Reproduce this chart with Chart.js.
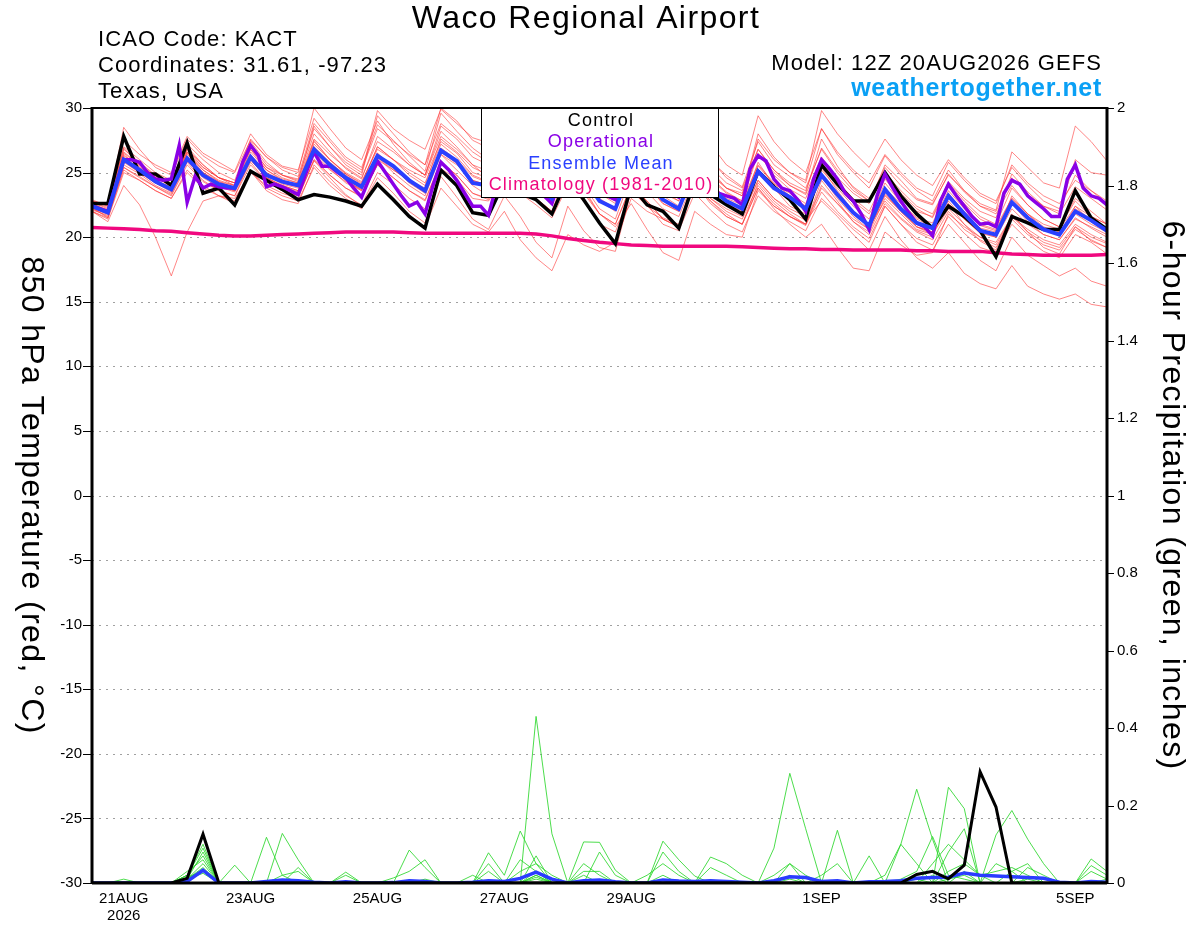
<!DOCTYPE html>
<html>
<head>
<meta charset="utf-8">
<script src="https://cdn.jsdelivr.net/npm/chart.js@4.4.1/dist/chart.umd.min.js"></script>
<style>
  html, body { margin: 0; padding: 0; background: #fff; }
  canvas { display: block; }
</style>
</head>
<body>
<canvas id="chart" width="1200" height="927"></canvas>
<script>
// hours after 12Z 20AUG2026, 6-hourly ensemble output, 3-hourly operational
const stepHours = 6;
const opStepHours = 3;
const tickHours = [12, 60, 108, 156, 204, 276, 324, 372];
const tickLabels = [['21AUG', '2026'], '23AUG', '25AUG', '27AUG', '29AUG', '1SEP', '3SEP', '5SEP'];

// 850 hPa temperature (C)
const control = [22.6, 22.6,
  27.8, 24.9, 24.9, 24.0, 27.3, 23.4, 23.8, 22.5, 25.1, 24.4, 23.7, 22.9,
  23.3, 23.1, 22.8, 22.4, 24.1, 22.9, 21.6, 20.7, 25.2, 24.0, 21.9, 21.7,
  24.3, 23.4, 22.9, 21.8, 24.6, 22.9, 21.1, 19.5, 24.0, 22.5, 22.0, 20.7,
  24.4, 23.3, 22.5, 21.8, 25.1, 23.9, 22.9, 21.4, 25.6, 24.1, 22.8, 22.8,
  25.0, 23.2, 21.8, 20.7, 22.4, 21.6, 20.5, 18.5, 21.6, 21.1, 20.6, 20.6,
  23.6, 21.5, 20.6];

const operational = [22.4, 22.2, 22.0, 24.0, 26.0, 26.0, 25.8, 25.0, 24.5, 24.4,
  24.5, 27.1, 22.7, 24.7, 23.8, 24.1, 23.9, 23.8, 23.8, 25.8,
  27.1, 26.3, 23.9, 24.1, 23.9, 23.6, 23.3, 25.0, 26.6, 25.5,
  25.5, 25.0, 24.6, 23.8, 23.1, 24.6, 25.9, 25.0, 24.1, 23.2,
  22.4, 22.7, 21.8, 24.0, 25.8, 25.2, 24.4, 23.4, 22.4, 22.4,
  21.7, 24.0, 26.0, 25.5, 25.0, 24.5, 24.0, 23.2, 22.6, 24.5,
  26.0, 25.5, 25.0, 24.2, 23.5, 23.2, 22.9, 24.5, 26.0, 25.2,
  24.5, 24.2, 23.8, 23.4, 23.1, 24.5, 26.0, 25.0, 24.2, 23.4,
  23.2, 23.0, 22.5, 25.3, 26.3, 25.9, 24.5, 23.8, 23.6, 22.9,
  22.0, 24.5, 26.0, 25.3, 24.5, 23.4, 22.8, 21.8, 20.6, 23.2,
  24.9, 23.8, 22.8, 21.9, 21.1, 20.8, 20.1, 22.8, 24.1, 23.2,
  22.4, 21.6, 21.0, 21.1, 20.8, 23.4, 24.4, 24.1, 23.2, 22.7,
  22.2, 21.6, 21.6, 24.5, 25.6, 23.8, 23.2, 23.0, 22.5];

const ensMean = [22.4, 21.9,
  26.0, 25.2, 24.3, 23.7, 26.1, 24.8, 24.1, 23.8, 26.2, 24.8, 24.3, 24.0,
  26.8, 25.6, 24.6, 23.9, 26.3, 25.5, 24.4, 23.6, 26.7, 25.9, 24.2, 24.0,
  26.0, 25.0, 24.0, 23.0, 25.8, 24.6, 22.8, 22.2, 25.4, 24.3, 22.9, 22.2,
  25.3, 23.8, 22.8, 22.2, 25.1, 23.8, 23.1, 22.2, 24.8, 23.3, 21.9, 20.9,
  23.7, 22.2, 21.1, 20.7, 23.2, 21.8, 20.5, 20.2, 22.7, 21.5, 20.6, 20.2,
  22.0, 21.3, 20.5];

const climatology = [20.75, 20.7, 20.65, 20.6, 20.5, 20.45, 20.35, 20.25, 20.15, 20.1,
  20.1, 20.15, 20.2, 20.25, 20.3, 20.35, 20.4, 20.4, 20.4, 20.4,
  20.35, 20.3, 20.3, 20.3, 20.3, 20.3, 20.3, 20.3, 20.25, 20.1,
  19.9, 19.75, 19.6, 19.5, 19.4, 19.35, 19.3, 19.3, 19.3, 19.3,
  19.3, 19.25, 19.2, 19.15, 19.1, 19.1, 19.05, 19.05, 19.0, 19.0,
  19.0, 19.0, 18.95, 18.95, 18.9, 18.9, 18.9, 18.8, 18.7, 18.65,
  18.6, 18.6, 18.6, 18.6, 18.65];

const tempMembers = [
  [22.8, 22.5, 27.5, 26.4, 25.6, 25.0, 27.8, 26.5, 25.8, 25.1, 28.0, 26.4, 25.5, 25.2, 29.2, 27.6, 26.2, 25.4, 28.7, 27.5, 26.3, 25.1, 29.6, 28.2, 26.9, 26.0, 28.6, 27.3, 26.1, 25.0, 28.3, 26.8, 25.2, 24.5, 27.6, 26.3, 24.9, 24.0, 27.9, 25.9, 24.8, 23.9, 27.4, 25.6, 24.7, 23.8, 26.8, 25.0, 23.6, 22.8, 25.4, 24.0, 22.9, 22.5, 24.9, 23.5, 22.4, 22.0, 24.6, 23.3, 22.4, 21.8, 23.9, 23.0, 22.1],
  [22.0, 21.4, 25.0, 24.4, 23.6, 23.0, 25.2, 24.0, 23.2, 22.6, 25.1, 23.6, 22.9, 22.6, 25.6, 24.3, 23.2, 22.5, 25.0, 24.1, 23.0, 22.2, 25.3, 24.5, 23.0, 22.8, 24.5, 23.4, 22.5, 21.5, 24.0, 22.8, 21.0, 20.4, 23.6, 22.5, 21.0, 20.5, 23.4, 22.1, 21.0, 20.4, 23.2, 22.0, 21.2, 20.5, 23.0, 21.8, 20.6, 19.6, 22.4, 21.0, 19.9, 19.4, 21.6, 20.3, 19.2, 18.8, 21.0, 19.8, 18.9, 18.4, 20.2, 19.6, 18.7],
  [22.5, 22.0, 26.6, 25.6, 24.8, 24.0, 26.8, 25.4, 24.6, 24.2, 27.0, 25.4, 24.8, 24.5, 28.4, 27.0, 25.8, 25.0, 29.8, 28.4, 27.5, 26.8, 29.9, 28.8, 27.7, 27.3, 29.5, 28.6, 27.4, 26.6, 29.0, 27.4, 25.6, 24.8, 27.0, 25.8, 24.0, 23.1, 26.2, 24.6, 23.5, 22.8, 26.5, 24.8, 23.7, 23.0, 26.0, 24.3, 23.0, 22.0, 24.5, 23.0, 22.0, 21.6, 24.3, 23.0, 22.0, 21.5, 24.9, 23.5, 22.4, 22.0, 26.0, 25.0, 24.8],
  [22.3, 21.8, 25.6, 24.9, 24.0, 23.4, 25.9, 24.6, 23.9, 23.5, 25.8, 24.3, 23.6, 23.2, 25.9, 24.6, 23.3, 22.4, 24.6, 23.4, 22.0, 21.1, 24.7, 23.1, 21.4, 20.6, 23.2, 21.6, 19.6, 18.4, 22.4, 20.5, 19.2, 18.9, 23.6, 22.4, 21.5, 21.0, 24.6, 23.0, 22.2, 21.6, 24.4, 23.0, 22.2, 21.6, 24.7, 23.0, 21.6, 20.6, 23.3, 22.0, 20.8, 20.2, 22.6, 21.0, 19.7, 19.0, 21.8, 20.4, 19.2, 18.7, 20.8, 19.7, 19.2],
  [22.6, 22.1, 26.2, 25.3, 24.6, 24.0, 26.4, 25.2, 24.3, 24.0, 26.6, 25.2, 24.5, 24.2, 27.2, 26.0, 25.0, 24.3, 26.8, 26.0, 25.2, 24.6, 27.4, 26.5, 25.0, 24.6, 26.6, 25.6, 24.6, 23.6, 26.5, 25.2, 23.4, 22.6, 25.8, 24.6, 23.2, 22.4, 25.8, 24.2, 23.0, 22.5, 25.5, 24.1, 23.4, 22.6, 25.2, 23.8, 22.4, 21.4, 24.2, 22.7, 21.5, 21.1, 23.6, 22.2, 21.0, 20.6, 23.0, 21.8, 20.8, 20.4, 22.2, 21.4, 20.6],
  [22.9, 22.4, 28.5, 26.8, 25.4, 24.8, 27.6, 26.3, 25.5, 25.0, 27.5, 26.2, 25.4, 25.0, 30.0, 28.4, 26.9, 26.0, 29.0, 27.2, 25.8, 24.8, 28.2, 27.0, 25.6, 24.6, 27.5, 26.4, 25.4, 24.8, 27.0, 25.6, 24.0, 23.4, 26.4, 25.0, 23.4, 22.8, 27.2, 25.2, 23.8, 23.2, 28.0, 26.2, 25.0, 24.2, 28.4, 26.4, 25.0, 23.8, 26.3, 24.8, 23.6, 22.8, 25.2, 23.6, 22.4, 21.8, 24.0, 22.5, 21.4, 20.8, 22.8, 21.6, 21.0],
  [22.2, 21.6, 25.4, 24.6, 23.9, 23.2, 25.6, 24.3, 23.6, 23.2, 26.0, 24.6, 23.9, 23.5, 26.8, 25.5, 24.4, 23.6, 26.5, 25.4, 24.2, 23.4, 26.9, 26.0, 24.7, 24.2, 26.2, 25.0, 24.0, 23.0, 26.0, 24.7, 22.8, 22.0, 25.4, 24.2, 22.9, 22.2, 25.0, 23.6, 22.4, 21.8, 24.4, 23.0, 22.0, 21.3, 22.8, 21.6, 20.2, 19.0, 21.6, 19.8, 18.4, 17.6, 18.8, 17.2, 16.4, 16.0, 17.8, 16.2, 15.6, 15.2, 15.6, 14.8, 14.6],
  [22.4, 21.9, 26.0, 25.0, 24.2, 23.5, 26.0, 24.8, 24.0, 23.6, 26.4, 25.0, 24.4, 24.0, 27.0, 25.8, 24.8, 24.0, 26.2, 25.0, 24.0, 23.2, 26.4, 25.2, 24.0, 23.2, 25.6, 24.2, 23.0, 22.0, 25.4, 24.0, 22.2, 21.4, 24.8, 23.5, 22.2, 21.6, 24.6, 23.0, 22.0, 21.4, 24.0, 22.6, 21.6, 20.9, 23.5, 22.0, 20.8, 19.9, 22.4, 21.0, 19.6, 19.0, 21.0, 19.6, 18.2, 17.4, 20.0, 18.6, 17.8, 17.0, 17.6, 16.6, 16.2],
  [22.5, 22.0, 26.3, 25.5, 24.4, 23.8, 26.2, 25.0, 24.3, 23.8, 26.3, 24.9, 24.2, 23.9, 27.5, 26.0, 24.9, 24.1, 27.0, 26.0, 24.8, 24.0, 27.6, 26.6, 25.4, 24.8, 27.8, 26.5, 25.5, 24.9, 28.8, 27.2, 25.5, 24.8, 29.6, 27.8, 26.0, 25.0, 27.5, 26.0, 24.6, 23.8, 26.8, 25.2, 24.0, 23.4, 27.6, 25.5, 23.8, 22.8, 24.8, 23.4, 22.2, 21.5, 24.0, 22.6, 21.4, 20.8, 23.0, 21.8, 21.0, 20.6, 22.4, 21.6, 21.0],
  [22.1, 21.7, 25.8, 25.0, 24.4, 23.9, 26.5, 25.0, 24.2, 23.9, 26.0, 24.6, 24.0, 23.6, 26.4, 25.2, 24.3, 23.7, 26.0, 25.2, 24.4, 23.8, 26.4, 25.6, 24.4, 24.0, 25.8, 24.8, 24.0, 23.0, 25.6, 24.4, 22.8, 22.2, 25.0, 24.0, 22.6, 22.0, 25.4, 23.9, 22.8, 22.3, 25.8, 24.0, 23.0, 22.4, 25.4, 23.6, 22.0, 20.8, 22.8, 21.5, 20.5, 20.0, 23.4, 21.9, 20.7, 20.4, 22.6, 21.2, 20.2, 19.8, 21.4, 20.8, 20.2],
  [22.7, 22.2, 26.8, 25.8, 24.8, 24.2, 27.0, 25.6, 24.6, 24.2, 26.8, 25.4, 24.6, 24.2, 27.6, 26.4, 25.4, 24.6, 27.4, 26.6, 25.6, 24.8, 27.8, 26.8, 25.6, 25.1, 27.0, 26.2, 25.2, 24.4, 26.8, 25.6, 24.0, 23.4, 26.0, 25.0, 23.8, 23.2, 26.2, 24.8, 23.8, 23.4, 26.4, 25.0, 24.0, 23.3, 26.2, 24.6, 23.4, 22.6, 25.6, 24.4, 23.0, 22.6, 24.8, 23.6, 22.6, 22.1, 26.6, 25.4, 24.2, 23.8, 28.6, 27.4, 25.9],
  [22.0, 21.2, 24.0, 22.5, 20.0, 17.0, 20.4, 22.8, 23.2, 23.0, 25.0, 24.0, 23.4, 23.0, 26.0, 24.8, 23.8, 23.2, 25.6, 24.6, 23.6, 22.9, 25.8, 24.8, 23.4, 23.0, 25.0, 23.8, 22.8, 21.8, 24.6, 23.4, 21.8, 21.0, 24.0, 22.8, 21.4, 20.8, 24.2, 22.6, 21.6, 21.0, 23.8, 22.4, 21.6, 21.0, 24.0, 22.6, 21.2, 20.4, 23.0, 21.8, 20.6, 20.2, 22.2, 21.0, 20.0, 19.4, 21.6, 20.4, 19.6, 19.2, 20.8, 20.0, 19.5],
  [22.6, 22.0, 26.4, 25.4, 24.6, 24.0, 26.6, 25.4, 24.6, 24.2, 27.2, 25.6, 24.8, 24.4, 28.6, 27.0, 25.6, 24.8, 29.4, 28.0, 26.6, 25.6, 30.0, 29.0, 27.5, 26.9, 29.8, 28.4, 26.8, 25.6, 27.5, 26.2, 24.6, 23.8, 26.6, 25.2, 23.8, 23.0, 26.0, 24.5, 23.4, 22.8, 25.6, 24.2, 23.2, 22.4, 25.8, 24.2, 22.8, 21.8, 23.8, 22.6, 21.4, 20.8, 23.2, 22.0, 20.9, 20.5, 22.8, 21.5, 20.6, 20.2, 21.8, 21.0, 20.4],
  [22.3, 21.5, 25.2, 24.4, 23.6, 23.0, 25.0, 23.8, 23.2, 22.8, 25.2, 23.8, 23.2, 22.8, 25.4, 24.0, 23.0, 22.2, 24.2, 22.8, 21.6, 20.8, 23.8, 22.4, 21.0, 20.4, 22.0, 19.8, 18.4, 17.4, 20.2, 19.4, 18.9, 19.6, 23.0, 22.0, 21.4, 20.8, 24.0, 22.8, 21.8, 21.0, 24.2, 22.8, 21.8, 21.0, 24.4, 22.8, 21.2, 20.2, 22.6, 21.4, 20.4, 19.8, 22.0, 20.6, 19.8, 19.2, 21.4, 20.2, 19.4, 19.0, 20.6, 19.8, 19.2],
  [22.4, 22.0, 26.1, 25.3, 24.3, 23.6, 26.2, 24.9, 24.0, 23.6, 26.0, 24.6, 24.0, 23.6, 27.0, 25.6, 24.4, 23.7, 26.5, 25.3, 24.3, 23.5, 26.8, 25.8, 24.4, 24.0, 26.2, 25.2, 24.0, 23.2, 26.2, 24.9, 23.0, 22.2, 25.2, 24.0, 22.6, 22.0, 25.6, 24.0, 22.6, 22.0, 25.2, 23.8, 22.4, 21.8, 24.6, 23.2, 21.8, 21.0, 23.4, 22.0, 20.8, 20.4, 22.8, 21.4, 20.4, 20.0, 23.2, 21.8, 20.6, 20.2, 22.4, 21.2, 20.4],
  [22.7, 22.3, 26.9, 25.6, 24.6, 24.0, 26.8, 25.6, 24.6, 24.0, 27.4, 25.8, 24.8, 24.3, 28.0, 26.6, 25.3, 24.5, 27.8, 26.8, 25.6, 24.8, 28.6, 27.6, 26.2, 25.6, 28.2, 27.2, 26.0, 25.2, 29.5, 28.2, 26.4, 25.4, 28.0, 26.8, 25.2, 24.2, 27.0, 25.4, 24.2, 23.6, 26.8, 25.2, 24.2, 23.6, 26.9, 25.2, 23.9, 23.0, 25.0, 23.6, 22.4, 21.8, 24.2, 22.8, 21.6, 21.0, 23.8, 22.5, 21.4, 20.8, 23.0, 22.0, 21.0],
  [22.2, 21.8, 25.9, 25.0, 24.2, 23.6, 26.0, 24.7, 24.0, 23.6, 26.1, 24.8, 24.1, 23.8, 26.6, 25.3, 24.2, 23.6, 26.2, 25.2, 24.4, 23.6, 26.6, 25.7, 24.2, 23.8, 25.8, 24.8, 23.8, 22.8, 25.2, 23.8, 21.8, 20.8, 22.6, 20.6, 18.8, 18.2, 22.0, 21.0, 20.2, 20.0, 23.6, 22.4, 21.6, 21.0, 23.8, 22.6, 21.4, 20.6, 23.2, 22.0, 20.8, 20.4, 22.6, 21.4, 20.3, 20.0, 22.2, 21.0, 20.2, 19.8, 21.5, 20.7, 20.0],
  [22.5, 22.1, 26.5, 25.6, 24.7, 24.1, 26.6, 25.2, 24.4, 24.0, 26.8, 25.2, 24.4, 24.0, 27.4, 26.0, 24.9, 24.2, 27.0, 26.0, 25.0, 24.2, 27.2, 26.2, 24.8, 24.3, 26.6, 25.6, 24.6, 23.6, 26.4, 25.2, 23.4, 22.8, 26.2, 25.0, 23.6, 22.8, 26.8, 25.0, 23.8, 23.2, 27.6, 26.0, 25.0, 24.4, 29.8, 28.0, 26.6, 25.4, 27.6, 26.0, 24.8, 24.0, 26.0, 24.6, 23.4, 22.8, 25.4, 24.0, 22.8, 22.2, 24.8, 23.6, 22.6],
  [22.0, 21.5, 25.4, 24.7, 23.9, 23.3, 25.8, 24.4, 23.6, 23.2, 25.6, 24.3, 23.6, 23.2, 26.0, 24.8, 23.8, 23.1, 25.6, 24.6, 23.6, 22.8, 25.8, 24.8, 23.4, 22.9, 25.0, 24.0, 23.0, 22.0, 24.8, 23.6, 21.8, 21.0, 24.0, 22.8, 21.4, 20.8, 24.2, 22.8, 21.6, 21.0, 23.8, 22.2, 21.0, 20.0, 21.0, 19.2, 17.6, 17.4, 20.4, 19.4, 18.6, 18.8, 21.8, 20.8, 20.0, 19.6, 21.6, 20.6, 19.8, 19.4, 21.0, 20.2, 19.6],
  [22.8, 22.4, 27.0, 26.0, 25.0, 24.4, 27.2, 26.0, 25.0, 24.4, 27.6, 26.2, 25.2, 24.7, 28.8, 27.4, 26.0, 25.2, 28.4, 27.4, 26.4, 25.6, 28.8, 27.8, 26.6, 25.8, 28.0, 27.0, 25.8, 25.0, 27.8, 26.6, 25.0, 24.2, 28.2, 26.8, 25.2, 24.4, 29.0, 27.2, 25.6, 24.8, 29.4, 27.4, 26.0, 25.0, 28.4, 26.6, 25.2, 24.2, 26.4, 25.0, 23.8, 23.2, 25.8, 24.4, 23.2, 22.6, 25.6, 24.2, 23.2, 22.6, 24.4, 23.6, 22.8]
];

// 6-hour precipitation (inches)
const precipControl = [0, 0, 0, 0, 0, 0, 0.012, 0.126, 0, 0, 0, 0, 0,
  0, 0, 0, 0, 0, 0, 0, 0, 0, 0, 0, 0, 0,
  0, 0, 0, 0, 0, 0, 0, 0, 0, 0, 0, 0, 0,
  0, 0, 0, 0, 0, 0, 0, 0, 0, 0, 0, 0, 0,
  0.022, 0.030, 0.011, 0.046, 0.287, 0.196, 0, 0, 0, 0, 0, 0, 0];

const precipMean = [0, 0, 0, 0, 0, 0, 0.004, 0.033, 0, 0, 0, 0.004, 0.008,
  0.006, 0.002, 0, 0.003, 0, 0, 0.001, 0.006, 0.004, 0, 0, 0.002, 0.006,
  0.004, 0.012, 0.028, 0.01, 0, 0.006, 0.008, 0.003, 0, 0, 0.008, 0.005, 0.004,
  0.006, 0.004, 0.002, 0, 0.006, 0.016, 0.014, 0.004, 0.006, 0, 0.003, 0.004, 0.006,
  0.012, 0.014, 0.015, 0.026, 0.02, 0.018, 0.016, 0.014, 0.012, 0.002, 0, 0.004, 0.002];

const precipMembers = [
  [0, 0, 0, 0, 0, 0, 0.02, 0.10, 0, 0, 0, 0, 0,
   0, 0, 0, 0, 0, 0, 0, 0, 0, 0, 0, 0, 0,
   0, 0, 0.43, 0.127, 0, 0, 0, 0, 0, 0, 0, 0, 0,
   0, 0, 0, 0, 0.09, 0.283, 0.14, 0, 0, 0, 0, 0, 0,
   0, 0, 0, 0, 0, 0.124, 0.187, 0.113, 0.05, 0, 0, 0, 0],
  [0, 0, 0, 0, 0, 0, 0.01, 0.08, 0, 0.046, 0, 0.118, 0.02,
   0, 0, 0, 0.028, 0, 0, 0, 0.085, 0.04, 0, 0, 0, 0.078,
   0.02, 0.134, 0.05, 0, 0, 0.106, 0.105, 0.033, 0, 0, 0.108, 0.06, 0.018,
   0, 0, 0, 0, 0, 0.01, 0, 0, 0.136, 0, 0, 0, 0.1,
   0.242, 0.113, 0, 0, 0, 0, 0, 0, 0, 0, 0, 0, 0],
  [0, 0, 0.01, 0, 0, 0, 0.03, 0.06, 0, 0, 0, 0, 0.128,
   0.06, 0, 0, 0.02, 0, 0, 0.013, 0.03, 0.06, 0, 0, 0, 0.05,
   0, 0, 0.07, 0, 0, 0, 0.08, 0.02, 0, 0, 0, 0, 0,
   0.067, 0.05, 0.02, 0, 0, 0, 0, 0, 0, 0, 0.07, 0, 0,
   0, 0, 0.247, 0.192, 0, 0, 0, 0, 0, 0, 0, 0.062, 0.03],
  [0, 0, 0, 0, 0, 0, 0.01, 0.05, 0, 0, 0, 0, 0,
   0.04, 0, 0, 0, 0, 0, 0, 0, 0.01, 0, 0, 0, 0,
   0, 0.03, 0.05, 0.02, 0, 0.05, 0.02, 0, 0, 0, 0.08, 0.03, 0,
   0, 0, 0, 0, 0.02, 0.05, 0, 0, 0, 0, 0, 0.02, 0.1,
   0.05, 0, 0.08, 0.14, 0, 0, 0.03, 0.05, 0, 0, 0, 0.03, 0.01],
  [0, 0, 0, 0, 0, 0, 0.02, 0.07, 0, 0, 0, 0, 0,
   0, 0, 0, 0, 0, 0, 0, 0, 0, 0, 0, 0, 0.03,
   0, 0, 0.02, 0, 0, 0.03, 0.03, 0, 0, 0, 0, 0, 0,
   0.04, 0.02, 0, 0, 0, 0.05, 0.02, 0, 0, 0, 0, 0, 0,
   0, 0.05, 0.1, 0.06, 0.02, 0, 0, 0.04, 0.02, 0, 0, 0.045, 0.02],
  [0, 0, 0, 0, 0, 0, 0.01, 0.04, 0, 0, 0, 0, 0.02,
   0.03, 0, 0, 0, 0, 0, 0, 0, 0, 0, 0, 0.02, 0,
   0, 0.06, 0.03, 0, 0, 0.02, 0, 0, 0, 0.02, 0.05, 0.02, 0,
   0, 0, 0, 0, 0, 0.02, 0, 0, 0, 0, 0, 0, 0,
   0.01, 0, 0.03, 0.05, 0.02, 0.03, 0.04, 0.02, 0, 0, 0, 0, 0.01],
  [0, 0, 0, 0, 0, 0, 0.015, 0.03, 0, 0, 0, 0, 0,
   0, 0, 0, 0, 0, 0, 0, 0, 0, 0, 0, 0, 0,
   0, 0, 0.03, 0, 0, 0, 0, 0, 0, 0, 0.02, 0, 0,
   0, 0, 0, 0, 0, 0, 0, 0.02, 0.05, 0, 0, 0, 0.01,
   0.03, 0.12, 0.02, 0.01, 0, 0.05, 0.03, 0, 0, 0, 0, 0, 0],
  [0, 0, 0, 0, 0, 0, 0.01, 0.035, 0, 0, 0, 0, 0,
   0, 0, 0, 0, 0, 0, 0, 0, 0, 0, 0, 0, 0,
   0, 0, 0.01, 0, 0, 0, 0, 0, 0, 0, 0, 0, 0,
   0, 0, 0, 0, 0, 0, 0, 0, 0, 0, 0, 0, 0,
   0, 0, 0.01, 0.02, 0, 0, 0, 0.01, 0, 0, 0, 0, 0],
  [0, 0, 0, 0, 0, 0, 0.02, 0.09, 0, 0, 0, 0, 0,
   0, 0, 0, 0, 0, 0, 0, 0, 0, 0, 0, 0, 0,
   0, 0, 0.015, 0, 0, 0, 0, 0, 0, 0, 0, 0, 0,
   0, 0, 0, 0, 0, 0, 0, 0, 0, 0, 0, 0, 0,
   0, 0.02, 0, 0, 0, 0, 0, 0, 0, 0, 0, 0, 0],
  [0, 0, 0, 0, 0, 0, 0.01, 0.025, 0, 0, 0, 0, 0,
   0, 0, 0, 0, 0, 0, 0, 0, 0, 0, 0, 0, 0,
   0, 0, 0.02, 0, 0, 0, 0, 0, 0, 0, 0, 0, 0,
   0, 0, 0, 0, 0, 0, 0, 0, 0, 0, 0, 0, 0,
   0, 0, 0, 0.03, 0, 0, 0, 0, 0, 0, 0, 0, 0]
];

const FONT = '"Liberation Sans", Arial, Helvetica, sans-serif';

function toPoints(values, step) {
  return values.map((v, i) => ({ x: i * step, y: v }));
}

function line(values, step, color, width, axis, order) {
  return {
    data: toPoints(values, step),
    yAxisID: axis,
    borderColor: color,
    borderWidth: width,
    pointRadius: 0,
    fill: false,
    tension: 0,
    order: order
  };
}

const datasets = [];
tempMembers.forEach(m => datasets.push(line(m, stepHours, 'rgba(255, 55, 55, 0.6)', 1, 'y', 20)));
precipMembers.forEach(m => datasets.push(line(m, stepHours, 'rgba(45, 215, 45, 0.85)', 1, 'y1', 15)));
datasets.push(line(climatology, stepHours, '#f0087f', 3.5, 'y', 6));
datasets.push(line(precipMean, stepHours, '#2a3cff', 3.5, 'y1', 5));
datasets.push(line(precipControl, stepHours, '#000000', 3, 'y1', 4));
datasets.push(line(control, stepHours, '#000000', 3.5, 'y', 3));
datasets.push(line(operational, opStepHours, '#8a00e6', 3.5, 'y', 2));
datasets.push(line(ensMean, stepHours, '#2a40ff', 4, 'y', 1));

function spacedText(ctx, text, x, y, spacing) {
  ctx.letterSpacing = spacing + 'px';
  ctx.fillText(text, x, y);
  ctx.letterSpacing = '0px';
}

// grid, frame, tick marks, legend box and header text
const decor = {
  id: 'decor',
  beforeDatasetsDraw(chart) {
    const { ctx, chartArea: a, scales } = chart;
    ctx.save();
    ctx.strokeStyle = '#a0a0a0';
    ctx.lineWidth = 1;
    ctx.setLineDash([2, 5]);
    scales.y.ticks.forEach(t => {
      const y = Math.round(scales.y.getPixelForValue(t.value)) + 0.5;
      ctx.beginPath();
      ctx.moveTo(a.left, y);
      ctx.lineTo(a.right, y);
      ctx.stroke();
    });
    ctx.restore();
  },
  afterDatasetsDraw(chart) {
    const { ctx, chartArea: a, scales } = chart;
    ctx.save();
    ctx.strokeStyle = '#000';
    // tick marks
    ctx.lineWidth = 1;
    scales.y.ticks.forEach(t => {
      const y = Math.round(scales.y.getPixelForValue(t.value)) + 0.5;
      ctx.beginPath(); ctx.moveTo(a.left - 9, y); ctx.lineTo(a.left, y); ctx.stroke();
    });
    scales.y1.ticks.forEach(t => {
      const y = Math.round(scales.y1.getPixelForValue(t.value)) + 0.5;
      ctx.beginPath(); ctx.moveTo(a.right, y); ctx.lineTo(a.right + 7, y); ctx.stroke();
    });
    // frame
    ctx.lineWidth = 2;
    ctx.beginPath(); ctx.moveTo(a.left, a.top); ctx.lineTo(a.right, a.top); ctx.stroke();
    ctx.lineWidth = 3;
    ctx.beginPath(); ctx.moveTo(a.left, a.top - 1); ctx.lineTo(a.left, a.bottom + 1); ctx.stroke();
    ctx.beginPath(); ctx.moveTo(a.right, a.top - 1); ctx.lineTo(a.right, a.bottom + 1); ctx.stroke();
    ctx.beginPath(); ctx.moveTo(a.left, a.bottom); ctx.lineTo(a.right, a.bottom); ctx.stroke();

    // legend box
    ctx.fillStyle = '#fff';
    ctx.fillRect(481, a.top, 238, 90);
    ctx.lineWidth = 1;
    ctx.strokeRect(481.5, a.top + 0.5, 237, 89);
    ctx.font = '18px ' + FONT;
    ctx.textAlign = 'center';
    ctx.textBaseline = 'middle';
    [['Control', '#000'], ['Operational', '#8a00e6'], ['Ensemble Mean', '#2a40ff'],
     ['Climatology (1981-2010)', '#f0087f']].forEach((e, i) => {
      ctx.fillStyle = e[1];
      spacedText(ctx, e[0], 601, a.top + 13 + i * 21.5, 1.2);
    });

    // header
    ctx.fillStyle = '#000';
    ctx.font = '32px ' + FONT;
    spacedText(ctx, 'Waco Regional Airport', 586, 19, 1.4);
    ctx.textAlign = 'left';
    ctx.font = '22px ' + FONT;
    spacedText(ctx, 'ICAO Code: KACT', 98, 40, 1.1);
    spacedText(ctx, 'Coordinates: 31.61, -97.23', 98, 66, 1.1);
    spacedText(ctx, 'Texas, USA', 98, 92, 1.1);
    ctx.textAlign = 'right';
    spacedText(ctx, 'Model: 12Z 20AUG2026 GEFS', 1102, 64, 1.1);
    ctx.fillStyle = '#0aa0f5';
    ctx.font = 'bold 25px ' + FONT;
    spacedText(ctx, 'weathertogether.net', 1102, 89, 0.7);

    // axis titles, both reading top to bottom
    ctx.fillStyle = '#000';
    ctx.font = '32px ' + FONT;
    ctx.textAlign = 'center';
    const midY = (a.top + a.bottom) / 2;
    ctx.save();
    ctx.translate(31, midY);
    ctx.rotate(Math.PI / 2);
    spacedText(ctx, '850 hPa Temperature (red, \u00B0C)', 0, 0, 1.4);
    ctx.restore();
    ctx.save();
    ctx.translate(1172, midY);
    ctx.rotate(Math.PI / 2);
    spacedText(ctx, '6-hour Precipitation (green, inches)', 0, 0, 1.4);
    ctx.restore();
    ctx.restore();
  }
};

const tickFont = { family: FONT, size: 15 };

new Chart(document.getElementById('chart').getContext('2d'), {
  type: 'line',
  data: { datasets: datasets },
  options: {
    responsive: false,
    devicePixelRatio: 1,
    animation: false,
    events: [],
    layout: { padding: { top: 108, left: 0, right: 0, bottom: 0 } },
    plugins: { legend: { display: false }, tooltip: { enabled: false } },
    scales: {
      x: {
        type: 'linear',
        min: 0,
        max: 384,
        grid: { display: false, drawTicks: false },
        border: { display: false },
        afterBuildTicks: s => { s.ticks = tickHours.map(v => ({ value: v })); },
        afterFit: s => { s.height = 44; },
        ticks: {
          autoSkip: false,
          maxRotation: 0,
          padding: 8,
          color: '#000',
          font: { family: FONT, size: 15, lineHeight: 1.1 },
          callback: (v, i) => tickLabels[i]
        }
      },
      y: {
        position: 'left',
        min: -30,
        max: 30,
        grid: { display: false, drawTicks: false },
        border: { display: false },
        afterFit: s => { s.width = 92; },
        ticks: { stepSize: 5, padding: 10, color: '#000', font: tickFont }
      },
      y1: {
        position: 'right',
        min: 0,
        max: 2,
        grid: { display: false, drawTicks: false },
        border: { display: false },
        afterFit: s => { s.width = 93; },
        ticks: {
          stepSize: 0.2,
          padding: 10,
          color: '#000',
          font: tickFont,
          callback: v => String(Number(v.toFixed(1)))
        }
      }
    }
  },
  plugins: [decor]
});
</script>
</body>
</html>
